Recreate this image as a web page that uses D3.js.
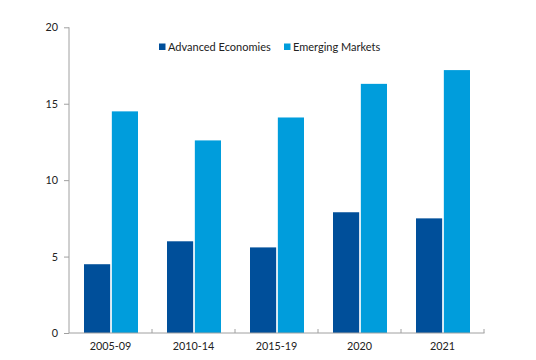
<!DOCTYPE html>
<html><head><meta charset="utf-8">
<script src="https://cdn.jsdelivr.net/npm/d3@7"></script>
<style>body{margin:0;background:#fff}svg{display:block}text{font-family:Lato,"Open Sans",sans-serif}</style>
</head><body><svg id="c" width="536" height="360"></svg>
<script>
const categories = ["2005-09","2010-14","2015-19","2020","2021"];
const seriesNames = ["Advanced Economies","Emerging Markets"];
const advanced = [4.5, 6.0, 5.6, 7.9, 7.5];
const emerging = [14.5, 12.6, 14.1, 16.3, 17.2];
const yTicks = [0,5,10,15,20];
const colors = ["#004f9a","#009ddc"];

const svg = d3.select("#c");
const x = d3.scaleBand().domain(categories).range([69,484]).paddingInner(0).paddingOuter(0);
const y = d3.scaleLinear().domain([0,20]).range([333,27.3]);
const sub = d3.scaleBand().domain(seriesNames).range([15, x.bandwidth()-14]).paddingInner(0.06);

const data = categories.map((c,i)=>({c, v:[advanced[i], emerging[i]]}));
const g = svg.append("g");
data.forEach(d=>{
  d.v.forEach((v,j)=>{
    g.append("rect")
      .attr("x", x(d.c)+sub(seriesNames[j]))
      .attr("width", sub.bandwidth())
      .attr("y", y(v))
      .attr("height", y(0)-y(v))
      .attr("fill", colors[j]);
  });
});

// y axis
const ya = svg.append("g").attr("transform","translate(69,0)")
  .call(d3.axisLeft(y).tickValues(yTicks).tickSize(5).tickPadding(6));
ya.select(".domain").attr("stroke","#a0a0a0").attr("d","M0,27.3V333");
ya.selectAll(".tick line").attr("stroke","#a0a0a0");
ya.selectAll(".tick text").attr("fill","#222").style("font-size","10.8px").style("font-family","Lato,'Open Sans',sans-serif");

// x axis
const xa = svg.append("g").attr("transform","translate(0,333)")
  .call(d3.axisBottom(x).tickSize(0).tickPadding(9));
xa.select(".domain").attr("stroke","#a0a0a0").attr("d","M69,0H484.5");
xa.selectAll(".tick text").attr("fill","#222").style("font-size","10.8px").style("font-family","Lato,'Open Sans',sans-serif");
// boundary ticks
xa.selectAll(".bt").data(categories).enter().append("line")
  .attr("x1", d=>x(d)+x.bandwidth()).attr("x2", d=>x(d)+x.bandwidth())
  .attr("y1",0).attr("y2",-4).attr("stroke","#a0a0a0");

// legend
const legX = [159, 284];
seriesNames.forEach((s,j)=>{
  svg.append("rect").attr("x",legX[j]).attr("y",43.5).attr("width",6.5).attr("height",6.5).attr("fill",colors[j]);
  svg.append("text").attr("x",legX[j]+9).attr("y",50.5).text(s)
    .attr("fill","#222").style("font-size","11px");
});
</script></body></html>
